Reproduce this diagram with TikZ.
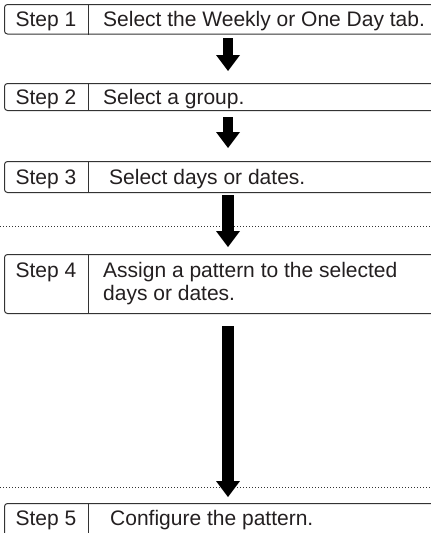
\documentclass[tikz,border=0pt]{standalone}
\usepackage{fontspec}
\setmainfont{Liberation Sans}
\usetikzlibrary{arrows.meta}
\definecolor{ink}{HTML}{231F20}
\definecolor{edge}{HTML}{333333}
\definecolor{dots}{HTML}{333333}
\tikzset{
  stepbox/.style={draw=edge, line width=1pt, rounded corners=3pt, rectangle, anchor=north west, minimum width=436pt, inner sep=0pt},
  divider/.style={draw=edge, line width=1pt},
  steplabel/.style={anchor=base, inner sep=0pt, text=ink, font=\fontsize{21pt}{23pt}\selectfont},
  steptext/.style={anchor=base west, inner sep=0pt, text=ink, font=\fontsize{21pt}{23pt}\selectfont, align=left},
  thinarrow/.style={draw=black, line width=10pt, -{Triangle[width=24pt,length=16pt,line width=0pt]}},
  thickarrow/.style={draw=black, line width=12pt, -{Triangle[width=24pt,length=16pt,line width=0pt]}},
  sepline/.style={draw=dots, line width=1pt, dash pattern=on 1pt off 2pt}
}
\begin{document}
\begin{tikzpicture}[x=1pt,y=-1pt]
\useasboundingbox (0,0) rectangle (431,533);
\clip (0,0) rectangle (431,533);
% boxes
\node[stepbox, minimum height=29.5pt] (b1) at (4,4) {};
\node[stepbox, minimum height=27pt] (b2) at (4,83) {};
\node[stepbox, minimum height=31pt] (b3) at (4,161) {};
\node[stepbox, minimum height=59pt] (b4) at (4,254) {};
\node[stepbox, minimum height=40pt] (b5) at (4,503) {};
\coordinate (dx) at (88,0);
\foreach \b in {b1,b2,b3,b4,b5}{
  \draw[divider] (\b.north -| dx) -- (\b.south -| dx);
}
% labels
\node[steplabel] (l1) at (46,26.5) {Step 1};
\node[steptext] (t1) at (103,26.5) {Select the Weekly or One Day tab.};
\node[steplabel] (l2) at (46,104) {Step 2};
\node[steptext] (t2) at (103,104) {Select a group.};
\node[steplabel] (l3) at (46,184) {Step 3};
\node[steptext] (t3) at (109,184) {Select days or dates.};
\node[steplabel] (l4) at (46,277) {Step 4};
\node[steptext] (t4) at (103,277) {Assign a pattern to the selected};
\node[steptext] (t4b) at (103,300) {days or dates.};
\node[steplabel] (l5) at (46,525) {Step 5};
\node[steptext] (t5) at (110,525) {Configure the pattern.};
% dotted separators
\coordinate (s1a) at (0,226); \coordinate (s1b) at (431,226);
\coordinate (s2a) at (0,487); \coordinate (s2b) at (431,487);
\draw[sepline] (s1a) -- (s1b);
\draw[sepline] (s2a) -- (s2b);
% arrows
\coordinate (a1s) at (228,38);  \coordinate (a1e) at (228,71);
\coordinate (a2s) at (228,117); \coordinate (a2e) at (228,148);
\coordinate (a3s) at (228,195); \coordinate (a3e) at (228,247);
\coordinate (a4s) at (228,326); \coordinate (a4e) at (228,497);
\draw[thinarrow] (a1s) -- (a1e);
\draw[thinarrow] (a2s) -- (a2e);
\draw[thickarrow] (a3s) -- (a3e);
\draw[thickarrow] (a4s) -- (a4e);
\end{tikzpicture}
\end{document}
